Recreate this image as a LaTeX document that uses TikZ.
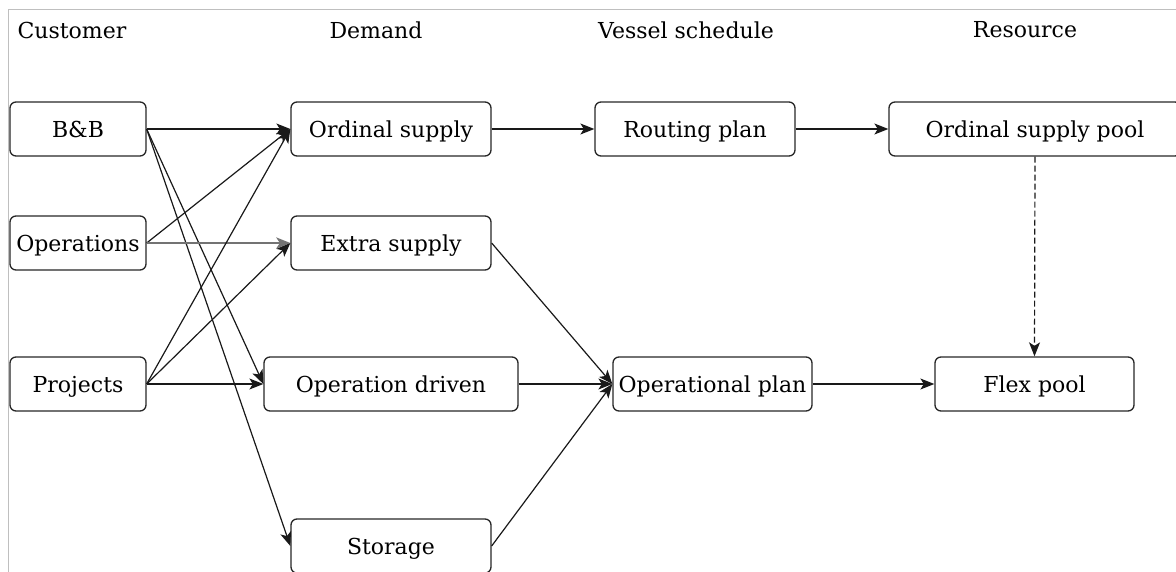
\documentclass[tikz,border=0pt]{standalone}
\usepackage{fontspec}
\setmainfont{DejaVu Serif}
\usetikzlibrary{arrows.meta}
\begin{document}
\begin{tikzpicture}[x=1pt,y=-1pt,
  box/.style={draw=black!85, line width=1.3pt, rounded corners=6pt, minimum height=54pt, inner sep=0pt, text height=21pt, text depth=4pt, font=\fontsize{22}{26}\selectfont},
  hdr/.style={inner sep=0pt, font=\fontsize{22}{26}\selectfont},
  conn/.style={draw=black!90, line width=1.2pt, -{Stealth[length=14pt,width=11pt,inset=3.5pt]}},
  thick conn/.style={conn, draw=black!55, line width=2.6pt},
  dash conn/.style={conn, dashed, dash pattern=on 6pt off 3pt}]
\useasboundingbox (0,0) rectangle (1176,572);
\draw[black!25, line width=1pt] (8,572) -- (8,10) -- (1176,10);
% headers
\node[hdr] (hcust) at (72,30) {Customer};
\node[hdr] (hdem) at (376,30) {Demand};
\node[hdr] (hves) at (686,30) {Vessel schedule};
\node[hdr] (hres) at (1025,30) {Resource};
% customers
\node[box, minimum width=136pt] (bb) at (78,129) {B\&B};
\node[box, minimum width=136pt] (ops) at (78,243) {Operations};
\node[box, minimum width=136pt] (proj) at (78,384) {Projects};
% demand
\node[box, minimum width=200pt] (ord) at (391,129) {Ordinal supply};
\node[box, minimum width=200pt] (extra) at (391,243) {Extra supply};
\node[box, minimum width=254pt] (opdr) at (391,384) {Operation driven};
\node[box, minimum width=200pt] (stor) at (391,546) {Storage};
% vessel schedule
\node[box, minimum width=200pt] (route) at (695,129) {Routing plan};
\node[box, minimum width=199pt] (opplan) at (712.5,384) {Operational plan};
% resource
\node[box, minimum width=292pt] (pool) at (1035,129) {Ordinal supply pool};
\node[box, minimum width=199pt] (flex) at (1034.5,384) {Flex pool};
% connectors
\draw[conn] (bb.east) -- (ord.west);
\draw[conn] (bb.east) -- (opdr.west);
\draw[conn] (bb.east) -- (stor.west);
\draw[conn] (ops.east) -- (ord.west);
\draw[thick conn] (ops.east) -- (extra.west);
\draw[conn] (proj.east) -- (ord.west);
\draw[conn] (proj.east) -- (extra.west);
\draw[conn] (proj.east) -- (opdr.west);
\draw[conn] (ord.east) -- (route.west);
\draw[conn] (route.east) -- (pool.west);
\draw[dash conn] (pool.south) -- (flex.north);
\draw[conn] (extra.east) -- (opplan.west);
\draw[conn] (opdr.east) -- (opplan.west);
\draw[conn] (stor.east) -- (opplan.west);
\draw[conn] (opplan.east) -- (flex.west);
\end{tikzpicture}
\end{document}
